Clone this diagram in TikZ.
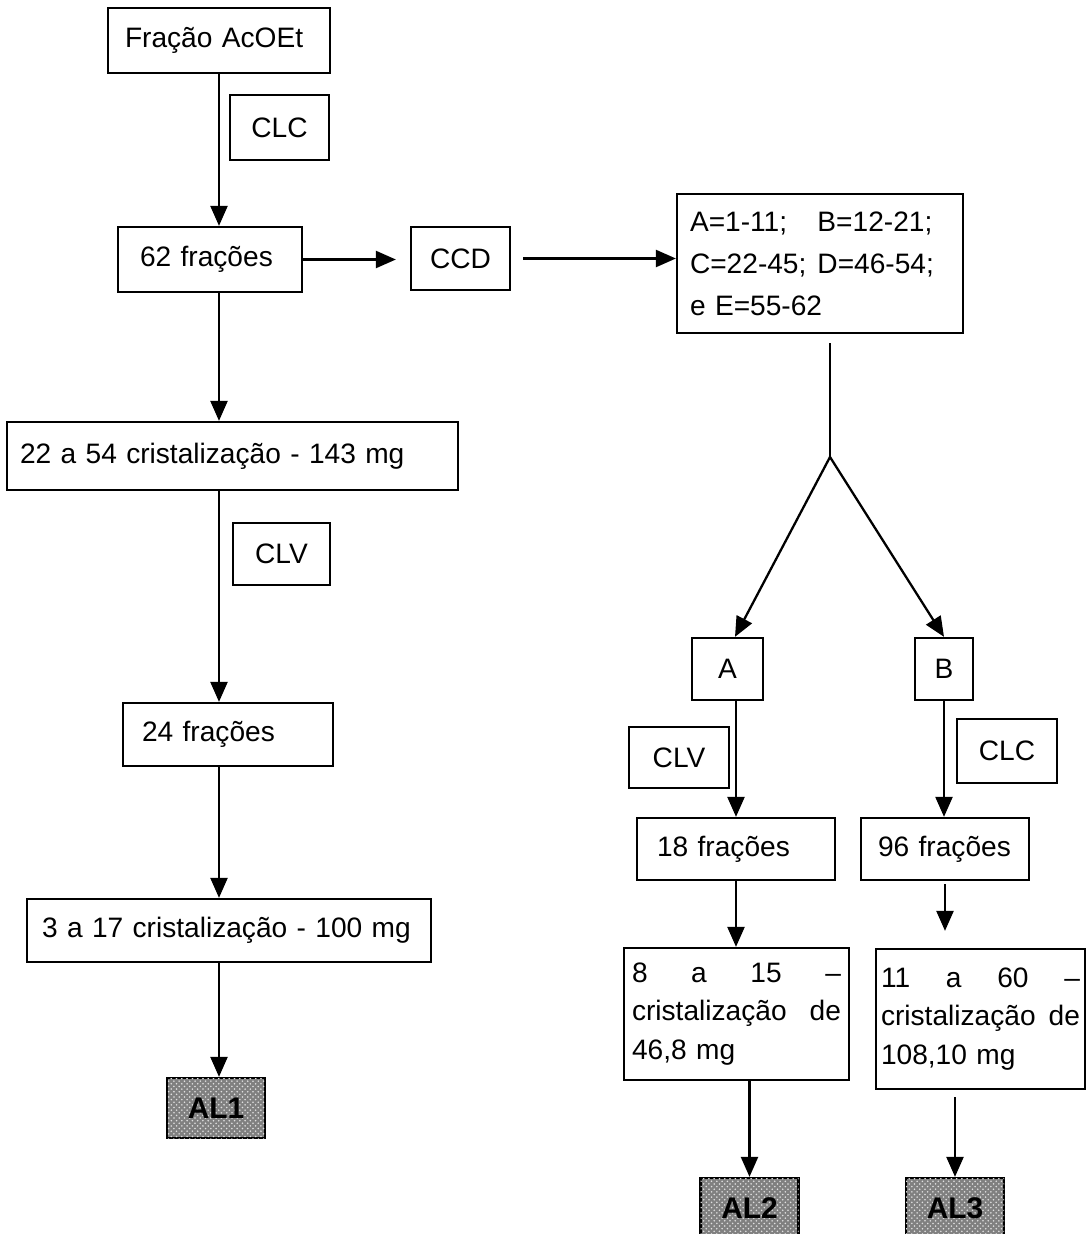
\documentclass[tikz,border=0pt]{standalone}
\usepackage{fontspec}
\setmainfont{Liberation Sans}
\usetikzlibrary{arrows.meta,patterns}

\begin{document}
\begin{tikzpicture}[
    x=0.02cm, y=-0.02cm,
    font=\fontsize{16}{22}\selectfont,
    box/.style={draw, line width=1.3pt, inner sep=0pt, minimum height=1.26cm},
    lbox/.style={box, align=left, inner xsep=#1},
    al/.style={draw, line width=1.3pt, fill=black!50,
      postaction={pattern=crosshatch dots, pattern color=black!12},
      minimum width=1.96cm, minimum height=1.2cm,
      font=\fontsize{17}{17}\selectfont\bfseries},
    arr/.style={-{Triangle[length=0.4cm,width=0.34cm]}, line width=1.3pt},
    ln/.style={line width=1.3pt},
  ]
  \useasboundingbox (0,0) rectangle (1087,1234);

  % left column
  \node[lbox=0.34cm, text width=3.76cm, minimum height=1.3cm] (frac) at (219,40.5) {Fração AcOEt};
  \node[box, minimum width=1.98cm, minimum height=1.3cm] (clc1) at (279.5,127.5) {CLC};
  \node[lbox=0.44cm, text width=2.8cm, minimum height=1.3cm] (f62) at (210,259.5) {62 frações};
  \node[lbox=0.26cm, text width=8.5cm, minimum height=1.36cm] (crys1) at (232.5,456) {22 a 54 cristalização - 143 mg};
  \node[box, minimum width=1.94cm, minimum height=1.24cm] (clv1) at (281.5,554) {CLV};
  \node[lbox=0.38cm, text width=3.44cm] (f24) at (228,734.5) {24 frações};
  \node[lbox=0.3cm, text width=7.48cm] (crys2) at (229,930.5) {3 a 17 cristalização - 100 mg};
  \node[al] (al1) at (216,1108) {AL1};

  % CCD and the groups
  \node[box, minimum width=1.98cm] (ccd) at (460.5,258.5) {CCD};
  \node[lbox=0.26cm, text width=5.2cm, minimum height=2.78cm,
    font=\fontsize{16}{24}\selectfont] (grp) at (820,263.5)
    {\makebox[2.55cm][l]{A=1-11;}B=12-21;\\\makebox[2.55cm][l]{C=22-45;}D=46-54;\\e E=55-62};
  \coordinate (fork) at (830,457);

  % right branches
  \node[box, minimum width=1.42cm, minimum height=1.24cm] (boxA) at (727.5,669) {A};
  \node[box, minimum width=1.16cm, minimum height=1.24cm] (boxB) at (944,669) {B};
  \node[box, minimum width=2.0cm, minimum height=1.22cm] (clv2) at (679,757.5) {CLV};
  \node[box, minimum width=2.0cm, minimum height=1.28cm] (clc2) at (1007,751) {CLC};
  \node[lbox=0.4cm, text width=3.16cm, minimum height=1.24cm] (f18) at (736,849) {18 frações};
  \node[lbox=0.34cm, text width=2.68cm, minimum height=1.24cm] (f96) at (945,849) {96 frações};
  \node[lbox=0.16cm, text width=4.18cm, minimum height=2.64cm] (crysA) at (736.5,1014)
    {8\hfill a\hfill 15\hfill –\\cristalização\hfill de\\46,8 mg};
  \node[lbox=0.1cm, text width=3.98cm, minimum height=2.8cm] (crysB) at (980.5,1019)
    {11\hfill a\hfill 60\hfill –\\cristalização\hfill de\\108,10 mg};
  \node[al] (al2) at (749.5,1208) {AL2};
  \node[al] (al3) at (955,1208) {AL3};

  \draw[arr] (frac.south) -- (frac.south |- f62.north);
  \draw[arr] (f62.south -| frac) -- (crys1.north -| frac);
  \draw[arr] (crys1.south -| frac) -- (f24.north -| frac);
  \draw[arr] (f24.south -| frac) -- (crys2.north -| frac);
  \draw[arr] (crys2.south -| frac) -- (al1.north -| frac);

  \draw[arr, shorten >=0.28cm] (f62.east) -- (f62.east -| ccd.west);
  \draw[arr, shorten <=0.24cm] (ccd.east) -- (ccd.east -| grp.west);
  \draw[ln, shorten <=0.18cm] (grp.south -| fork) -- (fork);
  \draw[arr] (fork) -- ([xshift=0.15cm]boxA.north);
  \draw[arr] (fork) -- (boxB.north);

  \draw[arr] (boxA.south -| f18) -- (f18.north);
  \draw[arr] (f18.south) -- (f18.south |- crysA.north);
  \draw[arr] (crysA.south -| al2) -- (al2.north);
  \draw[arr] (boxB.south) -- (boxB.south |- f96.north);
  \draw[arr, shorten <=0.06cm, shorten >=0.34cm] (f96.south) -- (f96.south |- crysB.north);
  \draw[arr, shorten <=0.14cm] (crysB.south -| al3) -- (al3.north);
\end{tikzpicture}
\end{document}
